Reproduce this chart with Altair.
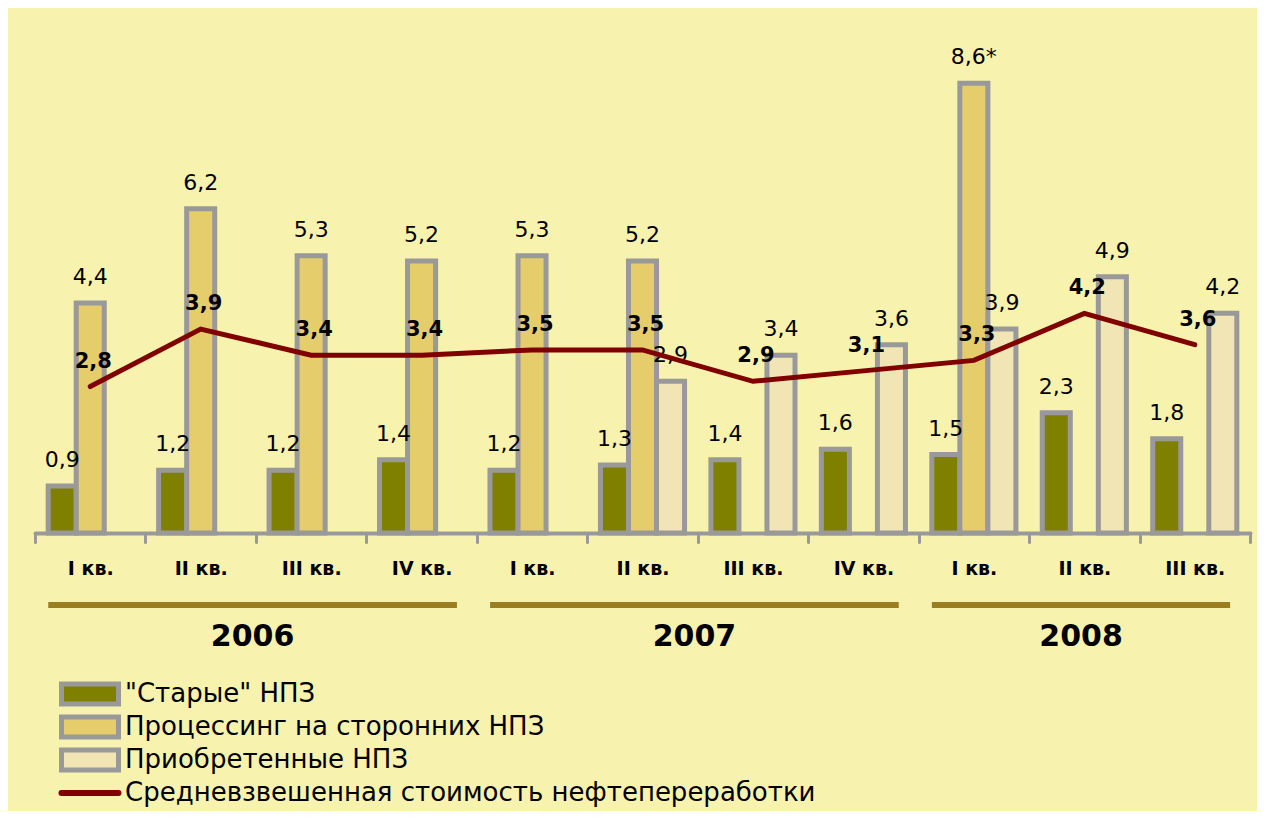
import altair as alt
import pandas as pd

FONT = "DejaVu Sans"

# ---- data ----
quarters = ["I", "II", "III", "IV", "I", "II", "III", "IV", "I", "II", "III"]
quarter_years = ["2006"] * 4 + ["2007"] * 4 + ["2008"] * 3
old_npz = [0.9, 1.2, 1.2, 1.4, 1.2, 1.3, 1.4, 1.6, 1.5, 2.3, 1.8]
processing = [4.4, 6.2, 5.3, 5.2, 5.3, 5.2, None, None, 8.6, None, None]
acquired = [None, None, None, None, None, 2.9, 3.4, 3.6, 3.9, 4.9, 4.2]
avg_cost = [2.8, 3.9, 3.4, 3.4, 3.5, 3.5, 2.9, 3.1, 3.3, 4.2, 3.6]
processing_notes = ["", "", "", "", "", "", "", "", "*", "", ""]

series_names = ['"Старые" НПЗ', "Процессинг на сторонних НПЗ", "Приобретенные НПЗ"]
line_name = "Средневзвешенная стоимость нефтепереработки"
series_colors = ["#808000", "#E6CD6B", "#F1E5B5"]
line_color = "#800000"
stroke_gray = "#999999"
year_color = "#9A7E20"
bg_color = "#F7F2AE"

years = ["2006", "2007", "2008"]
year_first = ["2006|I", "2007|I", "2008|I"]
year_last = ["2006|IV", "2007|IV", "2008|III"]
year_mid = ["2006|II", "2007|II", "2008|II"]

keys = [f"{y}|{q}" for y, q in zip(quarter_years, quarters)]


def fmt(v):
    return f"{v:.1f}".replace(".", ",")


bar_rows = []
for i, k in enumerate(keys):
    for s, vals, notes in [
        (series_names[0], old_npz, None),
        (series_names[1], processing, processing_notes),
        (series_names[2], acquired, None),
    ]:
        v = vals[i]
        if v is None:
            continue
        lab = fmt(v) + (notes[i] if notes else "")
        bar_rows.append({"key": k, "series": s, "value": v, "label": lab})
bars_df = pd.DataFrame(bar_rows)

line_df = pd.DataFrame({"key": keys, "value": avg_cost, "label": [fmt(v) for v in avg_cost]})
year_df = pd.DataFrame({"year": years, "first": year_first, "last": year_last, "mid": year_mid,
                        "n": [4, 4, 3]})
legend_df = pd.DataFrame({"name": series_names, "color": series_colors})
legend_line_df = pd.DataFrame({"name": [line_name]})
legend_all = series_names + [line_name]
legend_text_df = pd.DataFrame({"name": legend_all})

# ---- scales ----
x_scale = alt.Scale(domain=keys, paddingInner=0, paddingOuter=0)
y_scale = alt.Scale(domain=[0, 10], nice=False, zero=True)

x_axis = alt.Axis(
    title=None,
    labelExpr="indexof(datum.label, '|') > 0 ? split(datum.label, '|')[1] + ' кв.' : ''",
    labelFont=FONT, labelFontSize=19, labelFontWeight="bold", labelColor="black",
    labelBaseline="middle", labelPadding=26, labelAngle=0,
    tickBand="extent", tickSize=9, tickWidth=3, tickColor=stroke_gray, tickCap="round",
    domainColor=stroke_gray, domainWidth=4, domainCap="round", grid=False,
)

x_enc = alt.X("key:N", scale=x_scale, axis=x_axis)
xo_enc = alt.XOffset("series:N", scale=alt.Scale(domain=series_names, paddingInner=0, paddingOuter=0.47))
y_enc = alt.Y("value:Q", scale=y_scale, axis=None)

base_bars = alt.Chart(bars_df)
bars = base_bars.mark_bar(stroke=stroke_gray, strokeWidth=5, strokeJoin="miter").encode(
    x=x_enc, xOffset=xo_enc, y=y_enc,
    fill=alt.Fill("series:N", scale=alt.Scale(domain=series_names, range=series_colors), legend=None),
)
bar_text = base_bars.mark_text(font=FONT, fontSize=22, color="black",
                               baseline="alphabetic", dy=-19).encode(
    x=x_enc, xOffset=xo_enc, y=y_enc, text="label:N"
)

base_line = alt.Chart(line_df)
line = base_line.mark_line(color=line_color, strokeWidth=5, strokeCap="round").encode(x=x_enc, y=y_enc)
line_text = base_line.mark_text(font=FONT, fontSize=21, fontWeight="bold", color="black",
                                baseline="middle", dy=-25, dx=3).encode(x=x_enc, y=y_enc, text="label:N")

year_rule = alt.Chart(year_df).mark_rule(color=year_color, strokeWidth=6).encode(
    x=alt.X("first:N", scale=x_scale, axis=x_axis, bandPosition=0.12),
    x2=alt.X2("last:N", bandPosition=0.82),
    y=alt.value(595),
)
year_text4 = alt.Chart(year_df).transform_filter("datum.n == 4").mark_text(
    font=FONT, fontSize=30, fontWeight="bold", color="black", baseline="middle"
).encode(x=alt.X("mid:N", scale=x_scale, axis=x_axis, bandPosition=0.97), y=alt.value(627), text="year:N")
year_text3 = alt.Chart(year_df).transform_filter("datum.n == 3").mark_text(
    font=FONT, fontSize=30, fontWeight="bold", color="black", baseline="middle"
).encode(x=alt.X("mid:N", scale=x_scale, axis=x_axis, bandPosition=0.47), y=alt.value(627), text="year:N")

main = alt.layer(bars, bar_text, line, line_text, year_rule, year_text4, year_text3)

leg_y = alt.Y("name:N", scale=alt.Scale(type="point", domain=legend_all, range=[684, 783], padding=0), axis=None)
leg_swatch = alt.Chart(legend_df).mark_point(
    shape="M-1,-0.35H1V0.35H-1Z", size=3249, filled=True, opacity=1, stroke=stroke_gray, strokeWidth=5
).encode(x=alt.value(55), y=leg_y, fill=alt.Fill("color:N", scale=None))
leg_line = alt.Chart(legend_line_df).mark_point(
    shape="M-1,0H1", size=3249, filled=False, opacity=1, stroke=line_color, strokeWidth=6, strokeCap="round"
).encode(x=alt.value(55), y=leg_y)
leg_text = alt.Chart(legend_text_df).mark_text(
    font=FONT, fontSize=26, color="black", align="left", baseline="middle"
).encode(x=alt.value(90), y=leg_y, text="name:N")
legend = alt.layer(leg_swatch, leg_line, leg_text)

chart = alt.layer(main, legend).resolve_scale(y="independent").properties(
    width=1215, height=523, background=bg_color,
    padding={"left": 25, "top": 2, "right": 5, "bottom": 5},
).configure(font=FONT).configure_view(strokeWidth=0, stroke="transparent")

chart.save("out.html", embed_options={"renderer": "svg", "actions": False})
